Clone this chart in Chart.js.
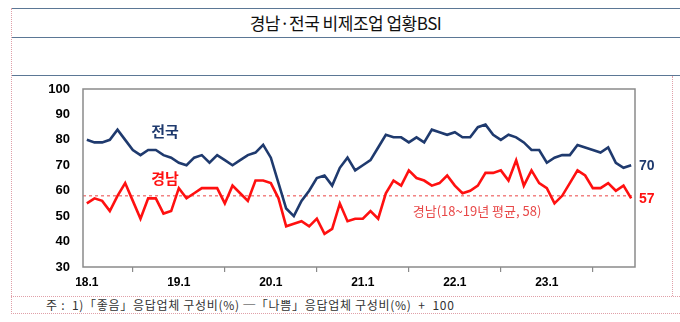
<!DOCTYPE html>
<html><head><meta charset="utf-8">
<script src="https://cdn.jsdelivr.net/npm/chart.js@4.4.1/dist/chart.umd.min.js"></script>
<style>
html,body{margin:0;padding:0;background:#fff;}
#wrap{position:relative;width:680px;height:322px;overflow:hidden;font-family:"Noto Sans CJK KR","Noto Sans",sans-serif;}
.hl{position:absolute;left:11px;right:0;height:0;border-top:1.5px solid #5b7795;}
.dl{position:absolute;left:11px;right:0;height:0;border-top:1px dotted #e0a0a8;}
.vl{position:absolute;width:0;border-left:1px dotted #e0a0a8;}
#title{position:absolute;left:11px;right:0;top:9px;height:28px;line-height:28px;text-align:center;font-size:17px;color:#111;letter-spacing:-0.5px;}
#note{position:absolute;left:46px;top:296px;height:17px;line-height:17px;font-size:12px;color:#333;white-space:pre;letter-spacing:0.7px;}
canvas{position:absolute;left:0;top:0;}
</style></head>
<body><div id="wrap">
<div class="hl" style="top:8px"></div>
<div class="hl" style="top:37px"></div>
<div class="hl" style="top:75px"></div>
<div class="vl" style="left:11px;top:8px;height:306px"></div>
<div class="vl" style="left:672px;top:76px;height:220px"></div>
<div class="dl" style="top:296px"></div>
<div class="dl" style="top:313px"></div>
<div id="title">경남·전국 비제조업 업황BSI</div>
<div id="note">주 :  1)「좋음」응답업체 구성비(%) ─「나쁨」응답업체 구성비(%)  +  100</div>
<canvas id="c" width="680" height="322"></canvas>
</div>
<script>
// categories: monthly 2018.1 - 2023.12
const years = [18,19,20,21,22,23];
const categories = [];
years.forEach(y => { for (let m = 1; m <= 12; m++) categories.push(y + '.' + m); });
const tickLabels = ['18.1','19.1','20.1','21.1','22.1','23.1'];

const nationwide = [
  80,79,79,80,84,80,76,74,76,76,74,73,
  71,70,73,74,71,74,72,70,72,74,75,78,
  73,63,53,50,56,60,65,66,62,69,73,68,
  70,72,77,82,81,81,79,81,79,84,83,82,
  83,81,81,85,86,82,80,82,81,79,76,76,
  71,73,74,74,78,77,76,75,77,71,69,70
];
const gyeongnam = [
  55,57,56,52,58,63,56,49,57,57,51,52,
  61,57,59,61,61,61,55,62,59,56,64,64,
  63,57,46,47,48,46,49,43,45,55,48,49,
  49,52,49,59,64,62,68,65,64,62,63,66,
  62,59,60,62,67,67,68,64,72,62,68,63,
  61,55,58,63,68,66,61,61,63,60,62,57
];
const gyeongnamAvg = 58;
const seriesNames = ['전국','경남'];
const avgLabel = '경남(18~19년 평균, 58)';

const NAVY = '#1f3a6e';
const RED = '#ff1010';

const decor = {
  id:'decor',
  beforeDatasetsDraw(chart){
    const {ctx, chartArea:a, scales:{y}} = chart;
    ctx.save();
    const ya = y.getPixelForValue(gyeongnamAvg);
    ctx.strokeStyle = '#f07070';
    ctx.lineWidth = 1.3;
    ctx.setLineDash([3,3]);
    ctx.beginPath(); ctx.moveTo(a.left, ya); ctx.lineTo(a.right, ya); ctx.stroke();
    ctx.restore();
  },
  afterDatasetsDraw(chart){
    const {ctx, chartArea:a, scales:{x,y}} = chart;
    ctx.save();
    ctx.strokeStyle = '#8a8a8a';
    ctx.lineWidth = 1.5;
    ctx.strokeRect(a.left, a.top, a.right - a.left, a.bottom - a.top);
    ctx.textAlign = 'center'; ctx.textBaseline = 'middle';
    ctx.font = 'bold 15px "Noto Sans CJK KR"';
    ctx.fillStyle = NAVY;
    ctx.fillText(seriesNames[0], x.getPixelForValue(10.2), y.getPixelForValue(83.5));
    ctx.fillStyle = RED;
    ctx.fillText(seriesNames[1], x.getPixelForValue(10.2), y.getPixelForValue(65));
    ctx.font = '13px "Noto Sans CJK KR"';
    ctx.fillStyle = '#e84848';
    ctx.fillText(avgLabel, x.getPixelForValue(50.9), y.getPixelForValue(gyeongnamAvg) + 15);
    ctx.textAlign = 'left';
    ctx.font = 'bold 14px "Liberation Sans"';
    const last = nationwide.length - 1;
    ctx.fillStyle = NAVY;
    ctx.fillText(String(nationwide[last]), a.right + 4, y.getPixelForValue(nationwide[last]) + 1);
    ctx.fillStyle = RED;
    ctx.fillText(String(gyeongnam[last]), a.right + 4, y.getPixelForValue(gyeongnam[last]) + 1);
    ctx.restore();
  }
};

new Chart(document.getElementById('c'), {
  type:'line',
  data:{
    labels: categories,
    datasets:[
      {label:seriesNames[0], data:nationwide, borderColor:NAVY, borderWidth:2.6, pointRadius:0, tension:0, fill:false},
      {label:seriesNames[1], data:gyeongnam, borderColor:RED, borderWidth:2.6, pointRadius:0, tension:0, fill:false}
    ]
  },
  options:{
    responsive:false, animation:false,
    layout:{padding:{left:0,right:45,top:89,bottom:0}},
    plugins:{legend:{display:false}, tooltip:{enabled:false}},
    scales:{
      x:{
        type:'category', offset:true,
        grid:{offset:true, drawOnChartArea:false, drawTicks:true, tickLength:5, color:'#8a8a8a', lineWidth:1.2},
        border:{display:false},
        ticks:{autoSkip:false, maxRotation:0, minRotation:0, padding:3, color:'#000',
          font:{family:'"Liberation Sans"', size:12, weight:'bold'},
          callback:(v,i)=>{ const lab = categories[i]; return tickLabels.includes(lab) ? lab : null; }},
        afterFit:(s)=>{ s.height = 55; }
      },
      y:{
        min:30, max:100,
        grid:{display:false, drawTicks:false},
        border:{display:false},
        ticks:{stepSize:10, padding:13, color:'#000',
          font:{family:'"Liberation Sans"', size:13, weight:'bold'}},
        afterFit:(s)=>{ s.width = 83; }
      }
    }
  },
  plugins:[decor]
});
</script>
</body></html>
